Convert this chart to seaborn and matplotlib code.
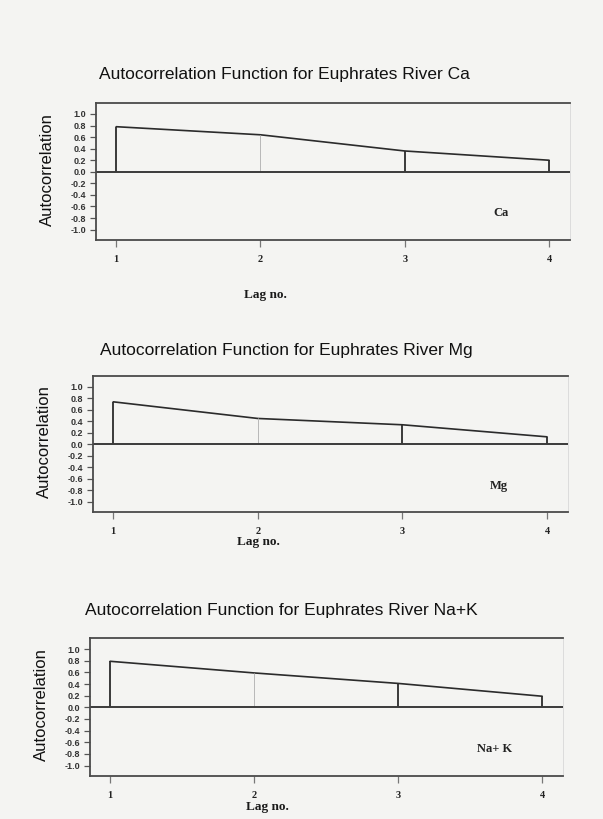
import numpy as np
import pandas as pd
import matplotlib
matplotlib.use("Agg")
import matplotlib.pyplot as plt
import seaborn as sns

# ---- data ----
lags = [1, 2, 3, 4]
ca_acf = [0.78, 0.64, 0.36, 0.20]
mg_acf = [0.74, 0.45, 0.34, 0.13]
nak_acf = [0.79, 0.59, 0.41, 0.19]
series_names = ["Ca", "Mg", "Na+K"]
series_labels = ["Ca", "Mg", "Na+ K"]
titles = ["Autocorrelation Function for Euphrates River Ca",
          "Autocorrelation Function for Euphrates River Mg",
          "Autocorrelation Function for Euphrates River Na+K"]
y_ticks = [1.0, 0.8, 0.6, 0.4, 0.2, 0.0, -0.2, -0.4, -0.6, -0.8, -1.0]
y_tick_labels = ["1.0", "0.8", "0.6", "0.4", "0.2", "0.0", "-0.2", "-0.4", "-0.6", "-0.8", "-1.0"]
x_label = "Lag no."
y_label = "Autocorrelation"

sns.set_style("white")
plt.rcParams['font.family'] = ['Liberation Sans', 'DejaVu Sans']

bg = "#f4f4f2"
ink = "#2b2b2b"
fig = plt.figure(figsize=(6.03, 8.19), dpi=100, facecolor=bg)
W, H = 603, 819

# axes boxes in pixels: left, top, right, bottom
boxes = [(96, 103, 570, 240), (93, 376, 568, 512), (90, 638, 563, 776)]
title_pos = [(284, 75), (286, 350), (281, 610)]
xlabel_pos = [(265, 295), (258, 542), (267, 807)]
ylabel_x = [47, 44, 41]
stem_colors = [ink, "#b8b8b8", ink, ink]
stem_widths = [1.3, 0.7, 1.3, 1.3]

all_vals = [ca_acf, mg_acf, nak_acf]

for i, vals in enumerate(all_vals):
    l, t, r, b = boxes[i]
    ax = fig.add_axes([l / W, 1 - b / H, (r - l) / W, (b - t) / H])
    ax.set_facecolor(bg)
    df = pd.DataFrame({"lag": lags, "acf": vals})
    sns.lineplot(data=df, x="lag", y="acf", ax=ax, color=ink, lw=1.2)
    for j, (lg, v) in enumerate(zip(lags, vals)):
        ax.vlines(lg, 0, v, color=stem_colors[j], lw=stem_widths[j])
    ax.axhline(0, color="#3a3a3a", lw=1.4)
    ax.set_xlim(0.86, 4.145)
    ax.set_ylim(-1.18, 1.19)
    ax.set_yticks(y_ticks)
    ax.set_yticklabels(y_tick_labels, fontsize=6.5, fontweight="bold", color="#333333")
    ax.set_xticks(lags)
    ax.set_xticklabels([str(v) for v in lags], fontsize=7.5, fontweight="bold",
                       family="Liberation Serif", color="#222222")
    ax.tick_params(axis="y", direction="out", length=4, width=0.9, color="#555555", pad=3, left=True)
    ax.tick_params(axis="x", direction="out", length=5, width=0.9, color="#777777", pad=6, bottom=True)
    ax.set_xlabel("")
    ax.set_ylabel("")
    for side in ["top", "bottom", "left"]:
        ax.spines[side].set_color("#4a4a4a")
        ax.spines[side].set_linewidth(1.3)
    ax.spines["right"].set_color("#d8d8d8")
    ax.spines["right"].set_linewidth(0.6)
    # series annotation
    ax.text(3.67, -0.72, series_labels[i], fontsize=9, fontweight="bold",
            family="Liberation Serif", color="#222222", ha="center", va="center")
    # title / labels
    tx, ty = title_pos[i]
    fig.text(tx / W, 1 - ty / H, titles[i], fontsize=12.5, color="#111111",
             ha="center", va="center")
    lx, ly = xlabel_pos[i]
    fig.text(lx / W, 1 - ly / H, x_label, fontsize=9.5, fontweight="bold",
             family="Liberation Serif", color="#1a1a1a", ha="center", va="center")
    fig.text(ylabel_x[i] / W, 1 - ((t + b) / 2 - 2) / H, y_label, fontsize=12,
             rotation=90, color="#111111", ha="center", va="center")

fig.savefig("out.png", dpi=100, facecolor=bg)
